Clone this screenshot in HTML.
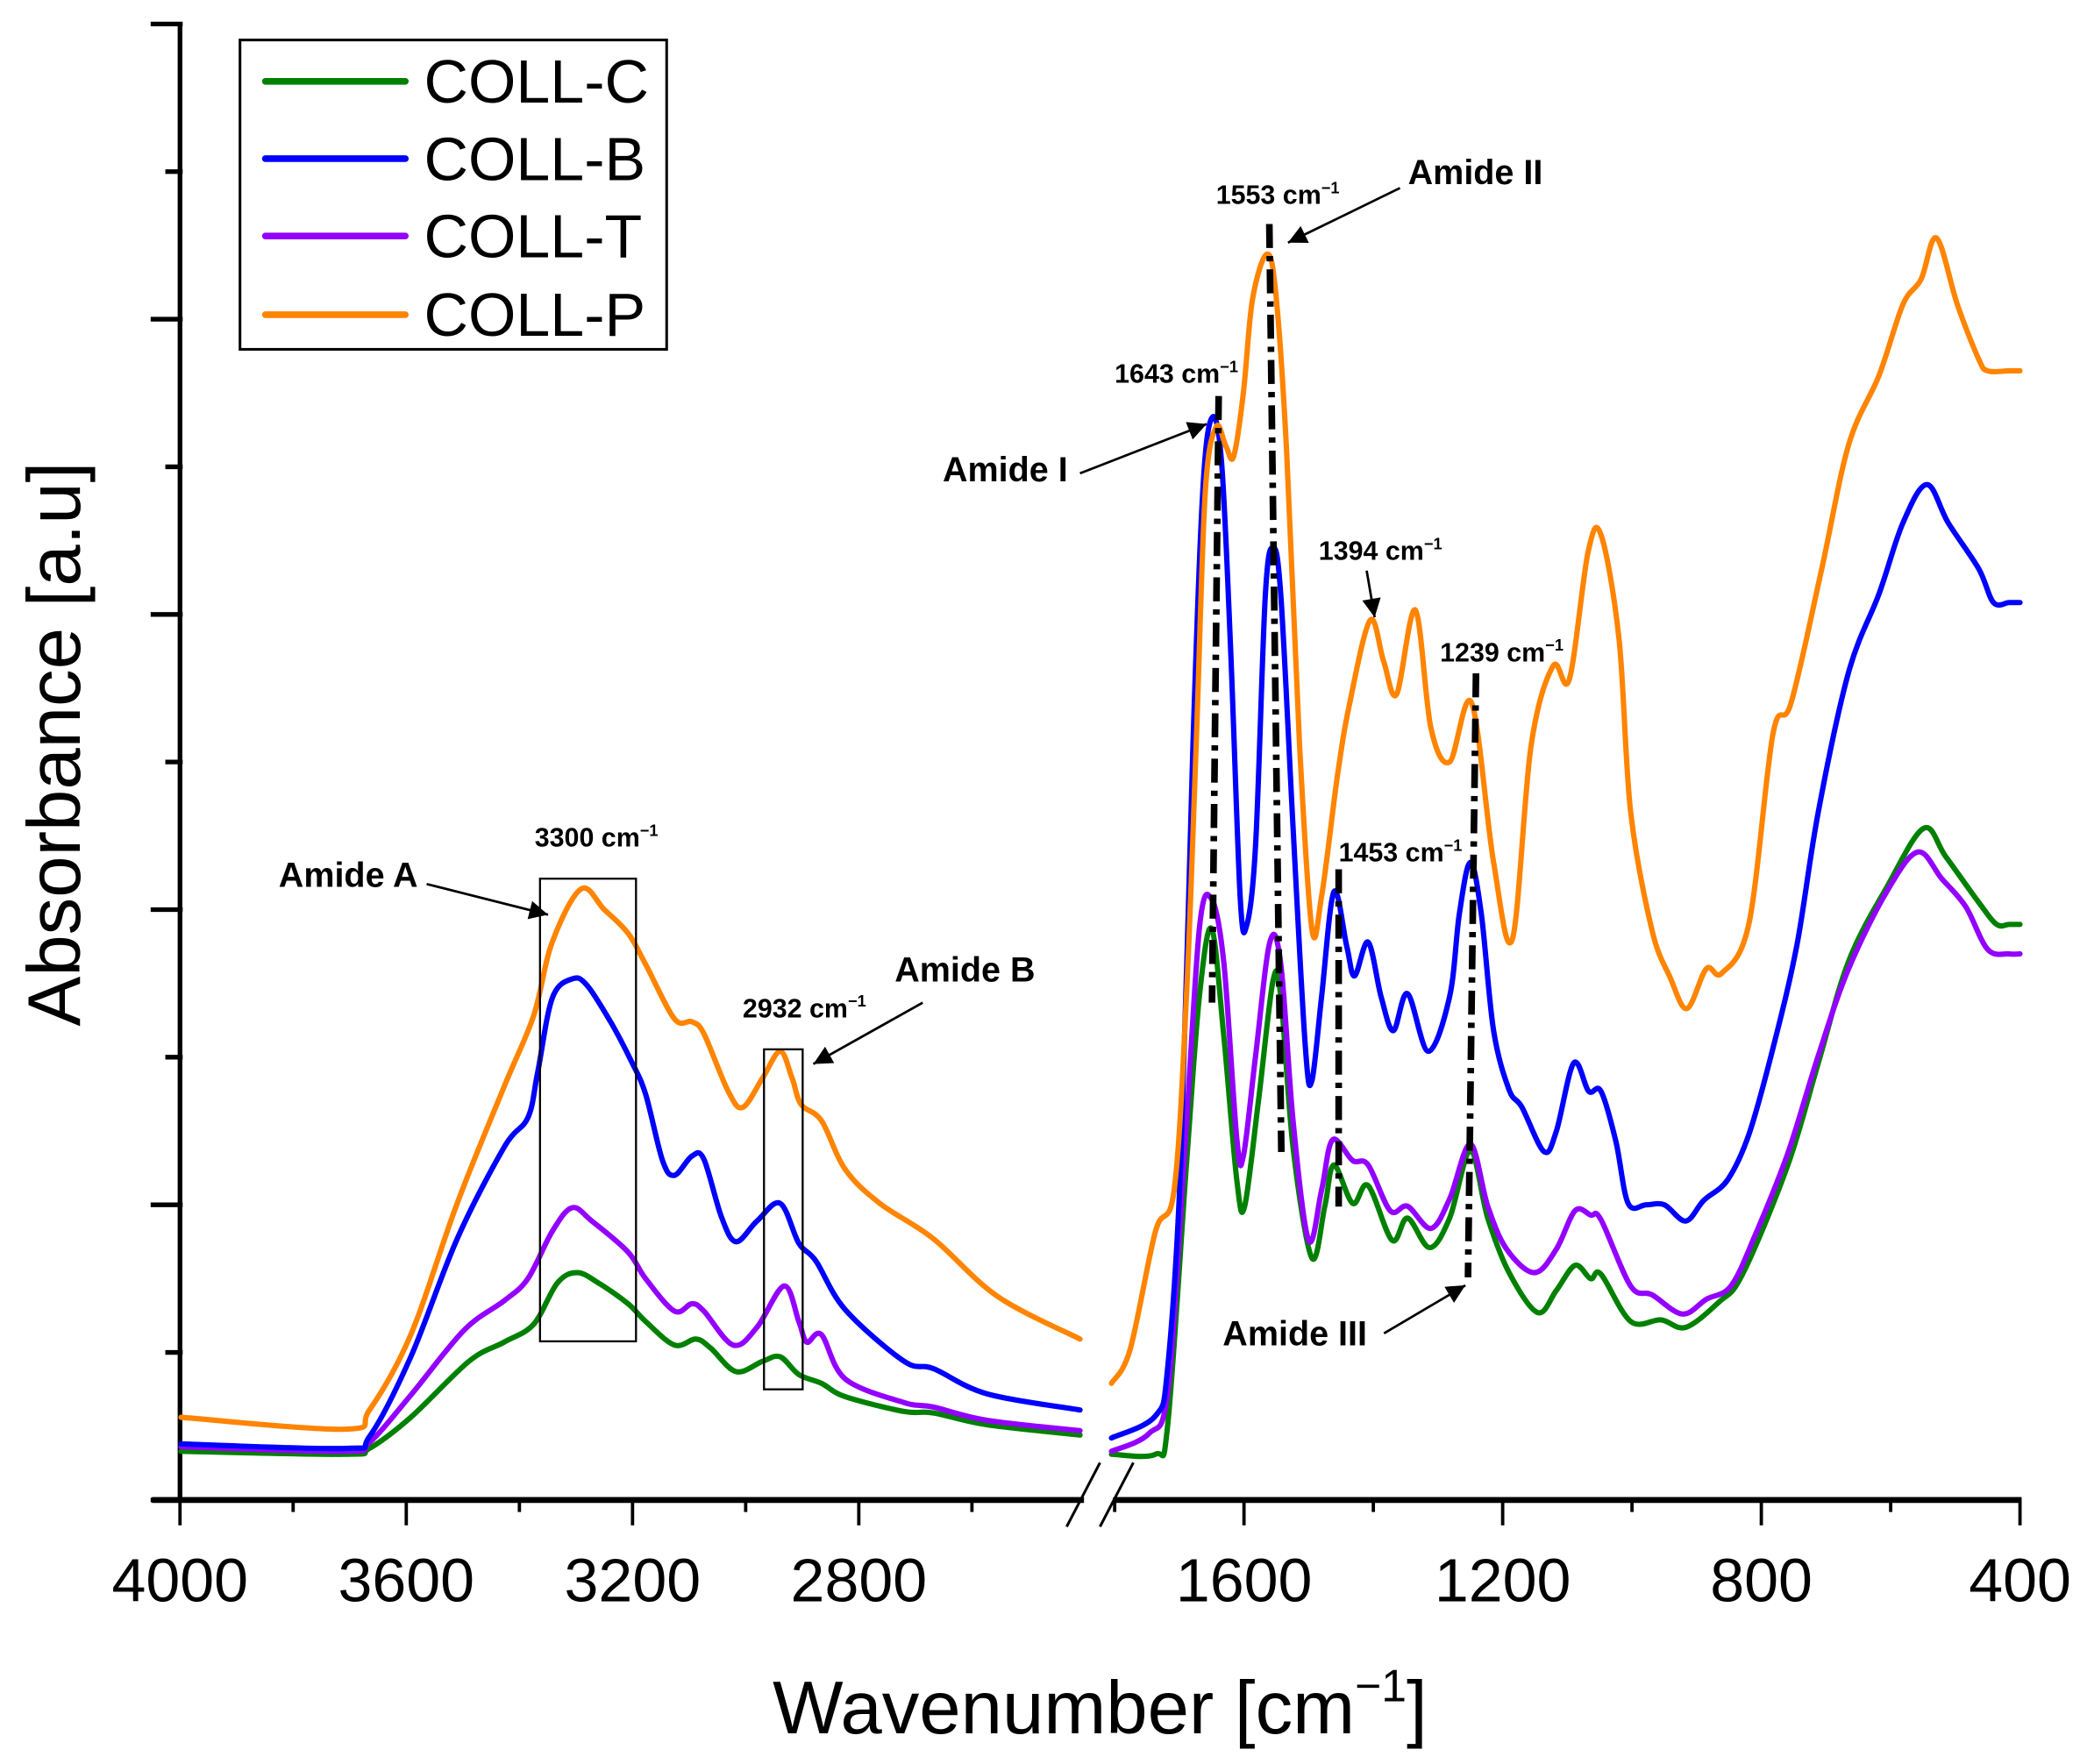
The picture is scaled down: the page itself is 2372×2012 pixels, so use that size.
<!DOCTYPE html>
<html><head><meta charset="utf-8"><style>
html,body{margin:0;padding:0;background:#fff;}
svg{display:block;}
text{font-family:"Liberation Sans",Arial,sans-serif;}
</style></head><body>
<svg id="chart" width="2372" height="2012" viewBox="0 0 1560 1323" preserveAspectRatio="none" xmlns="http://www.w3.org/2000/svg">
<g id="axes"></g>
<g id="series"></g>
<g id="annot"></g>
<g id="legend">
  <rect x="180" y="30" width="320" height="232" fill="#fff" stroke="#000" stroke-width="2"/>
  <line x1="199" y1="61" x2="304" y2="61" stroke="#008000" stroke-width="5" stroke-linecap="round"/>
  <text x="318" y="77" font-size="46">COLL-C</text>
  <line x1="199" y1="119" x2="304" y2="119" stroke="#0000ff" stroke-width="5" stroke-linecap="round"/>
  <text x="318" y="135" font-size="46">COLL-B</text>
  <line x1="199" y1="177" x2="304" y2="177" stroke="#9400ff" stroke-width="5" stroke-linecap="round"/>
  <text x="318" y="193" font-size="46">COLL-T</text>
  <line x1="199" y1="236" x2="304" y2="236" stroke="#ff8400" stroke-width="5" stroke-linecap="round"/>
  <text x="318" y="252" font-size="46">COLL-P</text>
</g>
</svg>
<script>
// wavenumber / absorbance (a.u.) data
const pLeftWn=[3998,3708,3665,3592,3510,3427,3375,3342,3291,3250,3208,3177,3126,3095,3074,3031,3005,2970,2939,2918,2902,2866,2824,2763,2668,2555,2409];
const pLeftAbs=[0.56,0.48,0.61,1.12,2.01,2.80,3.28,3.78,4.14,4.00,3.84,3.63,3.26,3.24,3.16,2.77,2.66,2.86,3.04,2.86,2.68,2.57,2.24,2.01,1.77,1.38,1.09];
const bLeftWn=[3998,3708,3665,3592,3510,3427,3385,3368,3342,3307,3281,3239,3203,3177,3147,3126,3095,3074,3043,3017,2980,2939,2906,2876,2824,2720,2668,2574,2409];
const bLeftAbs=[0.38,0.35,0.43,0.97,1.77,2.39,2.59,2.89,3.40,3.53,3.49,3.24,2.98,2.75,2.30,2.20,2.33,2.31,1.92,1.75,1.89,2.01,1.74,1.62,1.29,0.94,0.89,0.72,0.61];
const tLeftWn=[3998,3708,3665,3592,3498,3427,3385,3342,3307,3272,3208,3177,3126,3095,3074,3022,2980,2932,2906,2892,2866,2824,2720,2668,2574,2409];
const tLeftAbs=[0.36,0.33,0.39,0.71,1.15,1.35,1.50,1.82,1.98,1.89,1.68,1.50,1.28,1.33,1.28,1.05,1.17,1.45,1.21,1.07,1.12,0.82,0.66,0.63,0.54,0.47];
const cLeftWn=[3998,3708,3665,3592,3489,3427,3375,3333,3298,3260,3208,3177,3126,3088,3062,3017,2970,2939,2906,2866,2824,2720,2668,2574,2409];
const cLeftAbs=[0.33,0.31,0.35,0.56,0.94,1.07,1.19,1.47,1.54,1.47,1.33,1.21,1.05,1.09,1.03,0.87,0.94,0.97,0.85,0.79,0.70,0.60,0.59,0.51,0.44];

const pRightWn=[1805,1776,1737,1708,1689,1674,1660,1643,1628,1616,1601,1587,1565,1551,1534,1514,1495,1480,1456,1437,1405,1384,1364,1335,1311,1282,1248,1214,1185,1156,1122,1097,1068,1048,1020,1002,969,941,915,885,861,819,782,754,707,665,618,581,553,529,497,464,450,417,400];
const pRightAbs=[0.79,1.02,1.82,2.10,3.41,5.11,6.82,7.27,7.14,7.07,7.50,8.13,8.44,8.18,7.10,5.11,3.87,4.09,4.89,5.39,5.96,5.68,5.46,6.03,5.23,5.00,5.40,4.32,3.80,5.11,5.65,5.56,6.42,6.54,5.83,4.66,3.86,3.54,3.33,3.60,3.57,3.91,5.19,5.40,6.30,7.15,7.62,8.10,8.27,8.55,8.10,7.73,7.65,7.65,7.65];
const bRightWn=[1805,1737,1718,1698,1679,1664,1650,1635,1621,1606,1596,1582,1567,1555,1543,1524,1505,1495,1480,1461,1441,1429,1408,1388,1369,1347,1315,1282,1267,1250,1233,1214,1190,1170,1136,1117,1090,1067,1048,1025,1006,978,950,917,889,852,819,782,745,712,665,618,581,544,511,464,441,417,400];
const bRightAbs=[0.42,0.57,0.90,2.27,5.11,6.82,7.33,7.05,5.80,4.09,3.89,4.44,6.13,6.45,6.13,4.54,3.06,2.84,3.41,4.12,3.75,3.55,3.78,3.41,3.18,3.43,3.04,3.41,3.97,4.32,3.97,3.18,2.78,2.66,2.36,2.50,2.96,2.77,2.77,2.43,2.01,2.00,2.00,1.89,2.03,2.17,2.48,3.06,3.76,4.66,5.61,6.14,6.62,6.88,6.62,6.31,6.08,6.08,6.08];
const tRightWn=[1805,1747,1718,1693,1669,1650,1631,1611,1601,1582,1560,1543,1524,1500,1480,1463,1432,1408,1374,1347,1311,1282,1250,1223,1194,1151,1117,1088,1064,1048,1002,969,922,885,847,810,759,712,665,605,558,521,484,450,417,400];
const tRightAbs=[0.33,0.45,0.73,2.27,3.87,4.07,3.63,2.44,2.33,3.01,3.78,3.63,2.56,1.76,2.10,2.44,2.30,2.27,1.96,1.99,1.84,2.04,2.41,1.99,1.70,1.54,1.70,1.96,1.93,1.90,1.45,1.39,1.26,1.36,1.45,1.79,2.35,3.01,3.60,4.13,4.39,4.21,4.02,3.73,3.70,3.70];
const cRightWn=[1805,1737,1718,1689,1669,1650,1631,1611,1599,1577,1555,1543,1524,1495,1475,1461,1432,1408,1371,1347,1313,1282,1250,1223,1190,1146,1117,1088,1064,1048,1002,955,917,866,829,759,712,665,605,549,515,464,436,417,400];
const cRightAbs=[0.31,0.31,0.51,2.27,3.41,3.87,3.13,2.16,1.99,2.73,3.52,3.41,2.38,1.64,1.99,2.27,2.01,2.13,1.76,1.91,1.71,1.91,2.36,1.91,1.54,1.27,1.42,1.59,1.50,1.53,1.21,1.22,1.17,1.34,1.53,2.27,2.96,3.65,4.16,4.55,4.36,4.05,3.90,3.90,3.90];

const xTicksLeft=[4000,3600,3200,2800];
const xTicksRight=[1600,1200,800,400];
const xMinorLeft=[3800,3400,3000,2600];
const xMinorRight=[1800,1400,1000,600];
const yMajor=[0,2,4,6,8,10];
const yMinor=[1,3,5,7,9];

const NS='http://www.w3.org/2000/svg';
function xL(w){return 135+(4000-w)*0.42425;}
function xR(w){return 933+(1600-w)*0.485;}
function yS(v){return 1125-v*110.7;}
function mk(tag,attrs,parent){const e=document.createElementNS(NS,tag);for(const k in attrs)e.setAttribute(k,attrs[k]);parent.appendChild(e);return e;}

const axes=document.getElementById('axes');
let e;
e=mk('line',{x1:135,y1:18,x2:135,y2:1127,stroke:'#000','stroke-width':3.5},axes);


e=mk('line',{x1:114,y1:1125,x2:813,y2:1125,stroke:'#000','stroke-width':4.5},axes);


e=mk('line',{x1:836,y1:1125,x2:1516,y2:1125,stroke:'#000','stroke-width':4.5},axes);


e=mk('line',{x1:800,y1:1145,x2:825,y2:1097,stroke:'#000','stroke-width':2},axes);


e=mk('line',{x1:825,y1:1145,x2:850,y2:1097,stroke:'#000','stroke-width':2},axes);


yMajor.forEach(v=>{const t=mk('line',{x1:113,y1:yS(v),x2:137,y2:yS(v),stroke:'#000','stroke-width':3.5},axes);

});
yMinor.forEach(v=>{const t=mk('line',{x1:124,y1:yS(v),x2:137,y2:yS(v),stroke:'#000','stroke-width':3.5},axes);

});
function xtick(x,len,label){const t=mk('line',{x1:x,y1:1123,x2:x,y2:1125+len,stroke:'#000','stroke-width':2.5},axes);


if(label!==null){const l=mk('text',{x:x,y:1201,'font-size':46,'text-anchor':'middle'},axes);l.textContent=label;

}}
xTicksLeft.forEach(w=>xtick(xL(w),19,String(w)));
xTicksRight.forEach(w=>xtick(xR(w),19,String(w)));
xMinorLeft.forEach(w=>xtick(xL(w),9,null));
xMinorRight.forEach(w=>xtick(xR(w),9,null));
e=mk('text',{x:825,y:1300,'font-size':56,'text-anchor':'middle'},axes);
e.innerHTML='Wavenumber [cm<tspan dy="-24" font-size="34">−1</tspan><tspan dy="24">]</tspan>';


e=mk('text',{x:60,y:558,'font-size':56,'text-anchor':'middle',transform:'rotate(-90 60 558)'},axes);
e.textContent='Absorbance [a.u]';



const sg=document.getElementById('series');
function smoothPath(pts){
  let d='M'+pts[0][0].toFixed(1)+' '+pts[0][1].toFixed(1);
  for(let i=0;i<pts.length-1;i++){
    const p0=pts[i-1]||pts[i],p1=pts[i],p2=pts[i+1],p3=pts[i+2]||pts[i+1];
    const c1x=p1[0]+(p2[0]-p0[0])/6,c1y=p1[1]+(p2[1]-p0[1])/6;
    const c2x=p2[0]-(p3[0]-p1[0])/6,c2y=p2[1]-(p3[1]-p1[1])/6;
    d+=' C'+c1x.toFixed(1)+' '+c1y.toFixed(1)+' '+c2x.toFixed(1)+' '+c2y.toFixed(1)+' '+p2[0].toFixed(1)+' '+p2[1].toFixed(1);
  }
  return d;
}
function drawSeries(wn,ab,xf,color,name){
  const pts=wn.map((w,i)=>[xf(w),yS(ab[i])]);
  const p=mk('path',{d:smoothPath(pts),fill:'none',stroke:color,'stroke-width':4,'stroke-linejoin':'round','stroke-linecap':'round'},sg);
  
  
}
drawSeries(cLeftWn,cLeftAbs,xL,'#008000','coll-c-line-high');
drawSeries(tLeftWn,tLeftAbs,xL,'#9400ff','coll-t-line-high');
drawSeries(bLeftWn,bLeftAbs,xL,'#0000ff','coll-b-line-high');
drawSeries(pLeftWn,pLeftAbs,xL,'#ff8400','coll-p-line-high');
drawSeries(cRightWn,cRightAbs,xR,'#008000','coll-c-line-low');
drawSeries(tRightWn,tRightAbs,xR,'#9400ff','coll-t-line-low');
drawSeries(bRightWn,bRightAbs,xR,'#0000ff','coll-b-line-low');
drawSeries(pRightWn,pRightAbs,xR,'#ff8400','coll-p-line-low');

const an=document.getElementById('annot');
mk('defs',{},an).innerHTML='<marker id="ah" viewBox="0 0 10 10" refX="10" refY="5" markerWidth="24" markerHeight="14" orient="auto" markerUnits="userSpaceOnUse"><path d="M0 0 L10 5 L0 10 z" fill="#000"/></marker>';
function label(x,y,txt,size,sup,name){const t=mk('text',{x:x,y:y,'font-size':size,'font-weight':'bold'},an);
t.innerHTML=sup?txt+'<tspan dy="-8" font-size="'+(size*0.6)+'">−1</tspan>':txt;

}
function arrow(x1,y1,x2,y2,name){const l=mk('line',{x1:x1,y1:y1,x2:x2,y2:y2,stroke:'#000','stroke-width':1.8,'marker-end':'url(#ah)'},an);

}
function dd(x1,y1,x2,y2,name){const l=mk('line',{x1:x1,y1:y1,x2:x2,y2:y2,stroke:'#000','stroke-width':5,'stroke-dasharray':'18 6 4 6'},an);

}
function box(x,y,w,h,name){const r=mk('rect',{x:x,y:y,width:w,height:h,fill:'none',stroke:'#000','stroke-width':1.5},an);

}
box(405,659,72,347,'amide-a-box');
box(573,787,29,255,'amide-b-box');
label(401,635,'3300 cm',20,true,'label-3300');
label(209,665,'Amide A',26,false,'label-amide-a');
arrow(320,663,411,686,'arrow-amide-a');
label(557,763,'2932 cm',20,true,'label-2932');
label(671,736,'Amide B',26,false,'label-amide-b');
arrow(692,752,610,798,'arrow-amide-b');
label(836,287,'1643 cm',20,true,'label-1643');
label(912,153,'1553 cm',20,true,'label-1553');
label(1056,138,'Amide II',26,false,'label-amide-ii');
arrow(1050,141,966,182,'arrow-amide-ii');
label(707,361,'Amide I',26,false,'label-amide-i');
arrow(810,355,905,318,'arrow-amide-i');
label(989,420,'1394 cm',20,true,'label-1394');
arrow(1025,428,1031,463,'arrow-1394');
label(1080,496,'1239 cm',20,true,'label-1239');
label(1004,646,'1453 cm',20,true,'label-1453');
label(917,1009,'Amide III',26,false,'label-amide-iii');
arrow(1038,1000,1099,964,'arrow-amide-iii');
dd(914,297,909,752,'marker-line-1643');
dd(952,168,961,864,'marker-line-1553');
dd(1004,652,1004,905,'marker-line-1453');
dd(1107,505,1101,958,'marker-line-1239');
</script>
</body></html>
